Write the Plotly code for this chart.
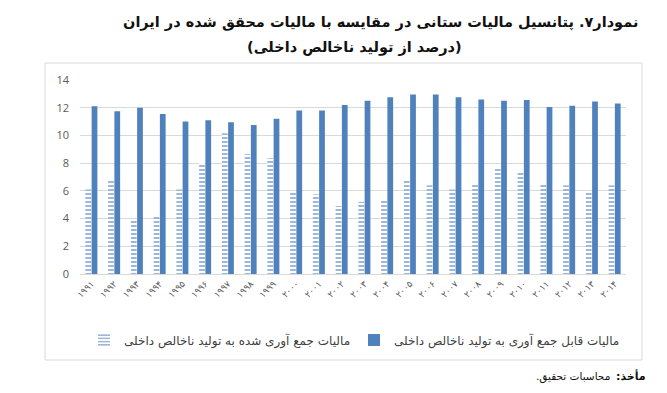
import plotly.graph_objects as go

years = [1991, 1992, 1993, 1994, 1995, 1996, 1997, 1998, 1999, 2000, 2001, 2002,
         2003, 2004, 2005, 2006, 2007, 2008, 2009, 2010, 2011, 2012, 2013, 2014]
collected = [6.1, 6.8, 3.9, 4.25, 6.1, 8.0, 10.15, 8.65, 8.35, 5.85, 5.75, 4.9,
             5.2, 5.4, 6.75, 6.4, 6.1, 6.45, 7.7, 7.3, 6.45, 6.4, 5.85, 6.4]
potential = [12.1, 11.75, 12.0, 11.55, 11.0, 11.1, 10.95, 10.75, 11.2, 11.8, 11.8, 12.2,
             12.5, 12.75, 12.95, 12.95, 12.75, 12.6, 12.5, 12.55, 12.05, 12.15, 12.45, 12.3]

RLM = "\u200F"
name_collected = "مالیات جمع آوری شده به تولید ناخالص داخلی"
name_potential = "مالیات قابل جمع آوری به تولید ناخالص داخلی"
title_text = "نمودار۷. پتانسیل مالیات ستانی در مقایسه با مالیات محقق شده در ایران"
subtitle_text = RLM + "(درصد از تولید ناخالص داخلی)" + RLM
source_label = "مأخذ:" + RLM
source_body = "محاسبات تحقیق." + RLM

fa_digits = str.maketrans("0123456789", "۰۱۲۳۴۵۶۷۸۹")
year_labels = [str(y).translate(fa_digits) for y in years]

BLUE = "#4F81BD"
STRIPE = "#3F70AE"
FA_FONT = "DejaVu Sans"

fig = go.Figure()
fig.add_trace(go.Bar(
    x=year_labels, y=collected, name=name_collected,
    marker=dict(color="white",
                pattern=dict(shape="-", fgcolor=STRIPE, bgcolor="white", size=4, solidity=0.5),
                line=dict(width=0)),
))
fig.add_trace(go.Bar(
    x=year_labels, y=potential, name=name_potential,
    marker=dict(color=BLUE, line=dict(width=0)),
))

# page offset of the figure (default body margin) compensated here
OFF = 8
W, H = 667 - OFF, 393 - OFF
PL, PR, PT, PB = 80, 626, 80, 274   # plot area in page pixels
L, R, T, B = PL - OFF, W - (PR - OFF), PT - OFF, H - (PB - OFF)
pw, ph = PR - PL, PB - PT

def px(xp):
    return (xp - PL) / pw

def py(yp):
    return (PB - yp) / ph

fig.update_layout(
    width=W, height=H,
    margin=dict(l=L, r=R, t=T, b=B, autoexpand=False),
    paper_bgcolor="white", plot_bgcolor="white",
    barmode="group", bargap=0.45, bargroupgap=0.08,
    showlegend=True,
    legend=dict(orientation="h", x=px(84), xanchor="left", y=py(340), yanchor="middle",
                font=dict(family=FA_FONT, size=12, color="#404040"),
                traceorder="normal", itemwidth=30, entrywidth=225),
    xaxis=dict(tickangle=-45, tickfont=dict(family=FA_FONT, size=9, color="#595959"),
               showline=True, linecolor="#d9d9d9", ticks="", showgrid=False),
    yaxis=dict(range=[0, 14], dtick=2, showgrid=True, gridcolor="#d9d9d9",
               tickfont=dict(family="Open Sans", size=11, color="#595959"),
               zeroline=False, showline=False, ticks="", ticklabelstandoff=10),
    shapes=[dict(type="rect", xref="paper", yref="paper",
                 x0=px(45), x1=px(642), y0=py(360), y1=py(63),
                 line=dict(color="#d9d9d9", width=1), fillcolor="rgba(0,0,0,0)")],
    annotations=[
        dict(text="<b>" + title_text + "</b>", xref="paper", yref="paper",
             x=px(640), y=py(23), xanchor="right", yanchor="middle", showarrow=False,
             font=dict(family=FA_FONT, size=14.5, color="#111111")),
        dict(text="<b>" + subtitle_text + "</b>", xref="paper", yref="paper",
             x=px(354), y=py(48), xanchor="center", yanchor="middle", showarrow=False,
             font=dict(family=FA_FONT, size=14.5, color="#111111")),
        dict(text="<b>" + source_label + "</b>", xref="paper", yref="paper",
             x=px(648), y=py(376), xanchor="right", yanchor="middle", showarrow=False,
             font=dict(family=FA_FONT, size=11, color="#111111")),
        dict(text=source_body, xref="paper", yref="paper",
             x=px(612), y=py(376), xanchor="right", yanchor="middle", showarrow=False,
             font=dict(family=FA_FONT, size=10.5, color="#111111")),
    ],
)

fig.write_html("out.html")
